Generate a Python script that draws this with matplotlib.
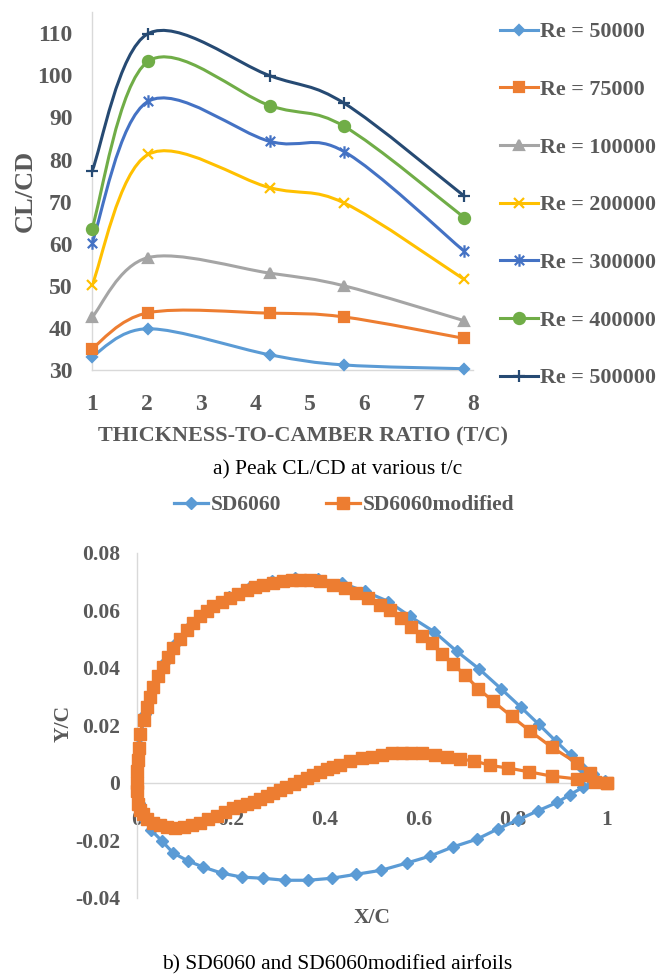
import numpy as np
import matplotlib
matplotlib.use("Agg")
import matplotlib.pyplot as plt
from matplotlib.path import Path
from matplotlib.patches import PathPatch
from matplotlib.lines import Line2D

plt.rcParams['font.family'] = ['Liberation Serif', 'DejaVu Serif']

# ---- peak CL/CD vs thickness-to-camber ratio ----
tc = [1.0, 2.03, 4.27, 5.63, 7.84]
re_labels = ['Re = 50000', 'Re = 75000', 'Re = 100000', 'Re = 200000',
             'Re = 300000', 'Re = 400000', 'Re = 500000']
re_50k = [33.2, 39.8, 33.6, 31.2, 30.3]
re_75k = [35.1, 43.6, 43.5, 42.6, 37.5]
re_100k = [42.5, 56.7, 53.0, 50.0, 41.7]
re_200k = [50.1, 81.2, 73.3, 69.7, 51.5]
re_300k = [60.2, 93.8, 84.3, 81.9, 58.2]
re_400k = [63.6, 103.3, 92.8, 87.9, 66.2]
re_500k = [77.2, 109.9, 99.9, 93.4, 71.3]

# ---- airfoil coordinates (TE upper -> LE -> TE lower) ----
sd_x = [1.0, 0.996, 0.97, 0.948, 0.923, 0.891, 0.855, 0.816, 0.774, 0.728,
        0.68, 0.632, 0.581, 0.535, 0.485, 0.436, 0.386, 0.336, 0.287, 0.24,
        0.196, 0.155, 0.118, 0.085, 0.057, 0.034, 0.016, 0.005, 0.0,
        0.004, 0.015, 0.03, 0.053, 0.077, 0.109, 0.141, 0.18, 0.223, 0.268,
        0.315, 0.364, 0.414, 0.467, 0.52, 0.574, 0.623, 0.672, 0.723, 0.768,
        0.81, 0.853, 0.894, 0.921, 0.949, 0.97, 1.0]
sd_y = [0.0, 0.0007, 0.003, 0.0048, 0.0095, 0.0145, 0.0203, 0.0264, 0.0328, 0.0396,
        0.0458, 0.0526, 0.0579, 0.0631, 0.0666, 0.0695, 0.071, 0.0712, 0.0703, 0.068,
        0.0648, 0.0605, 0.0553, 0.049, 0.0418, 0.0335, 0.024, 0.013, 0.0,
        -0.007, -0.0125, -0.0165, -0.0203, -0.0245, -0.0273, -0.0294, -0.0315, -0.0329, -0.0333,
        -0.034, -0.034, -0.0333, -0.0319, -0.0305, -0.028, -0.0256, -0.0224, -0.0197, -0.0161,
        -0.013, -0.0098, -0.0069, -0.0042, -0.0016, 0.0003, 0.0]

mod_x = [1.0, 0.964, 0.936, 0.882, 0.836, 0.797, 0.758, 0.726, 0.698, 0.673,
         0.648, 0.627, 0.606, 0.584, 0.561, 0.538, 0.517, 0.492, 0.467, 0.443,
         0.418, 0.389, 0.368, 0.347, 0.329, 0.311, 0.29, 0.269, 0.251, 0.233,
         0.215, 0.198, 0.18, 0.162, 0.148, 0.134, 0.12, 0.106, 0.091, 0.077,
         0.066, 0.056, 0.045, 0.035, 0.027, 0.0206, 0.014, 0.0064, 0.004, 0.002,
         0.0005, 0.0,
         0.0005, 0.003, 0.007, 0.013, 0.022, 0.035, 0.048, 0.063, 0.08, 0.099,
         0.116, 0.134, 0.152, 0.17, 0.187, 0.205, 0.219, 0.233, 0.248, 0.262,
         0.276, 0.29, 0.304, 0.318, 0.333, 0.347, 0.361, 0.375, 0.39, 0.404,
         0.418, 0.432, 0.453, 0.478, 0.499, 0.521, 0.542, 0.563, 0.584, 0.606,
         0.634, 0.659, 0.687, 0.716, 0.751, 0.79, 0.833, 0.882, 0.936, 0.974, 1.0]
mod_y = [0.0, 0.0032, 0.0068, 0.0124, 0.018, 0.0231, 0.0283, 0.0328, 0.0374, 0.0413,
         0.0448, 0.0485, 0.0512, 0.0541, 0.0573, 0.06, 0.062, 0.0643, 0.0662, 0.0678,
         0.0689, 0.0701, 0.0705, 0.0706, 0.0705, 0.0701, 0.0695, 0.0689, 0.068, 0.0672,
         0.0658, 0.0643, 0.063, 0.0614, 0.0597, 0.0579, 0.0556, 0.0532, 0.05, 0.0468,
         0.0437, 0.0404, 0.037, 0.0334, 0.03, 0.0264, 0.022, 0.017, 0.012, 0.008,
         0.004, 0.0,
         -0.003, -0.0075, -0.0095, -0.011, -0.0125, -0.0139, -0.0148, -0.0156, -0.0158, -0.0156,
         -0.0149, -0.0139, -0.0128, -0.0116, -0.0103, -0.0089, -0.0082, -0.0075, -0.0066, -0.0057,
         -0.0047, -0.0037, -0.0026, -0.0016, -0.0005, 0.0005, 0.0015, 0.0025, 0.0037, 0.0048,
         0.0055, 0.006, 0.0077, 0.0086, 0.0091, 0.0098, 0.0103, 0.0104, 0.0104, 0.0103,
         0.0098, 0.0091, 0.0081, 0.0077, 0.006, 0.0051, 0.0038, 0.0023, 0.0013, 0.0001, 0.0]

GRAY_TXT = '#595959'
AXIS_CLR = '#D9D9D9'
FS_TOP = 17
FS_BOT = 15.5


def smooth_path(x, y):
    """Bezier path through the points, similar to spreadsheet 'smoothed line'."""
    p = np.column_stack([x, y]).astype(float)
    n = len(p)
    verts = [p[0]]
    codes = [Path.MOVETO]
    for i in range(n - 1):
        a = p[max(i - 1, 0)]
        b = p[i]
        c = p[i + 1]
        d = p[min(i + 2, n - 1)]
        verts += [b + (c - a) / 6, c - (d - b) / 6, c]
        codes += [Path.CURVE4] * 3
    return Path(verts, codes)


# asterisk marker: vertical bar plus an X
star = Path([(0, -1), (0, 1), (-0.75, -0.75), (0.75, 0.75), (-0.75, 0.75), (0.75, -0.75)],
            [Path.MOVETO, Path.LINETO] * 3)

series = [
    (re_50k, '#5B9BD5', 'D', 5.5),
    (re_75k, '#ED7D31', 's', 7),
    (re_100k, '#A5A5A5', '^', 7.5),
    (re_200k, '#FFC000', 'x', 7.5),
    (re_300k, '#4472C4', star, 9),
    (re_400k, '#70AD47', 'o', 8),
    (re_500k, '#264A73', '+', 9),
]

fig = plt.figure(figsize=(6.59, 9.75), dpi=100)

ax = fig.add_axes([92 / 659, 1 - 370 / 975, 381 / 659, 357.8 / 975])
handles = []
for vals, col, mk, ms in series:
    ax.add_patch(PathPatch(smooth_path(tc, vals), facecolor='none', edgecolor=col,
                           lw=2.2, capstyle='round', zorder=3))
    ax.plot(tc, vals, ls='none', marker=mk, ms=ms, color=col, mec=col, mew=1.6, zorder=4,
            clip_on=False)
    handles.append(Line2D([], [], color=col, lw=2.2, marker=mk, ms=ms, mec=col, mew=1.6))

ax.set_xlim(1, 8)
ax.set_ylim(30, 115)
ax.set_xticks(range(1, 9))
ax.set_yticks(range(30, 111, 10))
for side in ['top', 'right']:
    ax.spines[side].set_visible(False)
for side in ['left', 'bottom']:
    ax.spines[side].set_color(AXIS_CLR)
    ax.spines[side].set_linewidth(1.0)
ax.tick_params(axis='x', length=0, pad=17, labelsize=FS_TOP, labelcolor=GRAY_TXT)
ax.tick_params(axis='y', length=0, pad=14, labelsize=FS_TOP, labelcolor=GRAY_TXT)
for t in ax.get_xticklabels() + ax.get_yticklabels():
    t.set_fontweight('bold')
ax.set_xlabel('THICKNESS-TO-CAMBER RATIO (T/C)', fontsize=16, fontweight='bold',
              color=GRAY_TXT, va='center')
ax.xaxis.set_label_coords(0.555, -0.187)
ax.set_ylabel('CL/CD', fontsize=19, fontweight='bold', color=GRAY_TXT, va='center')
ax.yaxis.set_label_coords(-0.175, 0.5)

fig.legend(handles, re_labels, loc='upper left', bbox_to_anchor=(500 / 659, 1 - 22 / 975),
           frameon=False, labelcolor=GRAY_TXT, handlelength=1.75,
           handletextpad=0.05, labelspacing=1.7, borderpad=0, borderaxespad=0,
           prop={'weight': 'bold', 'size': 15.8})

fig.text(337.5 / 659, 1 - 470 / 975, 'a) Peak CL/CD at various t/c', ha='center',
         va='center', fontsize=15.5, color='black')

# ---- airfoil shapes ----
ax2 = fig.add_axes([137 / 659, 1 - 897.5 / 975, 470 / 659, 344.5 / 975])
l1, = ax2.plot(sd_x, sd_y, color='#5B9BD5', lw=2.3, marker='D', ms=6, zorder=3,
               clip_on=False, label='SD6060')
l2, = ax2.plot(mod_x, mod_y, color='#ED7D31', lw=2.3, marker='s', ms=8.5, zorder=4,
               clip_on=False, label='SD6060modified')
ax2.set_xlim(0, 1)
ax2.set_ylim(-0.04, 0.08)
ax2.set_xticks([0, 0.2, 0.4, 0.6, 0.8, 1])
ax2.set_xticklabels(['0', '0.2', '0.4', '0.6', '0.8', '1'])
ax2.set_yticks([-0.04, -0.02, 0, 0.02, 0.04, 0.06, 0.08])
ax2.set_yticklabels(['-0.04', '-0.02', '0', '0.02', '0.04', '0.06', '0.08'])
for side in ['top', 'right']:
    ax2.spines[side].set_visible(False)
ax2.spines['bottom'].set_position(('data', 0))
for side in ['left', 'bottom']:
    ax2.spines[side].set_color(AXIS_CLR)
    ax2.spines[side].set_linewidth(1.0)
ax2.tick_params(axis='x', length=0, pad=20, labelsize=FS_BOT, labelcolor=GRAY_TXT)
ax2.tick_params(axis='y', length=0, pad=12, labelsize=FS_BOT, labelcolor=GRAY_TXT)
for t in ax2.get_xticklabels() + ax2.get_yticklabels():
    t.set_fontweight('bold')
ax2.set_xlabel('X/C', fontsize=FS_BOT, fontweight='bold', color=GRAY_TXT, va='center')
ax2.xaxis.set_label_coords(0.5, -0.06)
ax2.set_ylabel('Y/C', fontsize=FS_BOT, fontweight='bold', color=GRAY_TXT, va='center')
ax2.yaxis.set_label_coords(-0.157, 0.506)

fig.legend([l1, l2], ['SD6060', 'SD6060modified'], loc='center', ncol=2,
           bbox_to_anchor=(344 / 659, 1 - 505 / 975), frameon=False, labelcolor=GRAY_TXT,
           handlelength=1.6, handletextpad=0.1, columnspacing=2.1, borderpad=0,
           prop={'weight': 'bold', 'size': FS_BOT})

fig.text(337.5 / 659, 1 - 965 / 975, 'b) SD6060 and SD6060modified airfoils', ha='center',
         va='center', fontsize=15.5, color='black')

fig.savefig('out.png', dpi=100)
